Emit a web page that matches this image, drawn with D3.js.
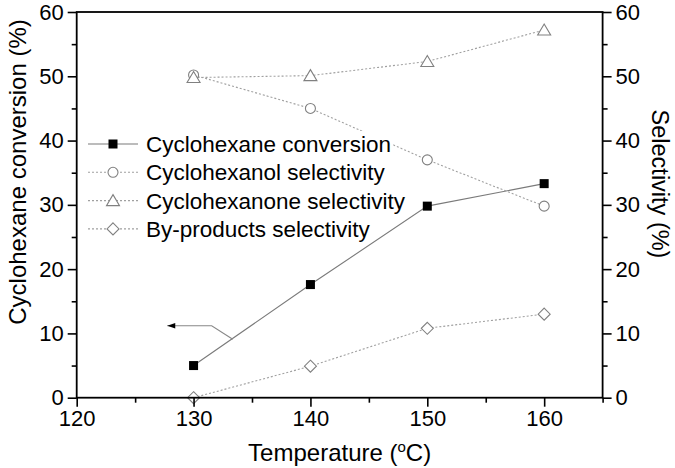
<!DOCTYPE html>
<html>
<head>
<meta charset="utf-8">
<script src="https://cdn.jsdelivr.net/npm/d3@7"></script>
<style>
  html, body { margin: 0; padding: 0; background: #fff; }
  svg { display: block; font-family: "Liberation Sans", Arial, sans-serif; }
</style>
</head>
<body>
<svg id="chart" width="675" height="468"></svg>
<script>
// ---- data ----
const temperatures = [130, 140, 150, 160];
const conversion = [5.0, 17.6, 29.8, 33.3];
const cyclohexanolSel = [50.2, 45.0, 37.0, 29.8];
const cyclohexanoneSel = [49.8, 50.1, 52.3, 57.2];
const byproductsSel = [0.0, 4.9, 10.8, 13.0];
const xTicks = [120, 130, 140, 150, 160];
const yTicks = [0, 10, 20, 30, 40, 50, 60];
const legendLabels = ["Cyclohexane conversion", "Cyclohexanol selectivity", "Cyclohexanone selectivity", "By-products selectivity"];
// annotation arrow in data coordinates (tip, bend, end on conversion line)
const arrowPts = [[127.75, 11.2], [131.55, 11.2], [133.35, 9.1]];

// ---- layout ----
const svg = d3.select("#chart");
const L = 76.7, R = 602.6, T = 12, B = 397.7;
const x = d3.scaleLinear().domain([120, 165]).range([L, R]);
const yL = d3.scaleLinear().domain([0, 60]).range([B, T]);
const yR = d3.scaleLinear().domain([0, 60]).range([B, T]);

const series = [
  { name: legendLabels[0], vals: conversion, scale: yL, marker: "square", dash: null, lineColor: "#7a7a7a" },
  { name: legendLabels[1], vals: cyclohexanolSel, scale: yR, marker: "circle", dash: "2,2", lineColor: "#a0a0a0" },
  { name: legendLabels[2], vals: cyclohexanoneSel, scale: yR, marker: "triangle", dash: "2,2", lineColor: "#a0a0a0" },
  { name: legendLabels[3], vals: byproductsSel, scale: yR, marker: "diamond", dash: "2,2", lineColor: "#a0a0a0" }
];

function drawMarker(g, type, cx, cy) {
  if (type === "square") {
    g.append("rect").attr("x", cx - 4.5).attr("y", cy - 4.5).attr("width", 9).attr("height", 9)
      .attr("fill", "#000");
  } else if (type === "circle") {
    g.append("circle").attr("cx", cx).attr("cy", cy).attr("r", 5)
      .attr("fill", "#fff").attr("stroke", "#808080").attr("stroke-width", 1.1);
  } else if (type === "triangle") {
    g.append("path").attr("d", `M${cx},${cy - 6} L${cx + 6.5},${cy + 5} L${cx - 6.5},${cy + 5} Z`)
      .attr("fill", "#fff").attr("stroke", "#808080").attr("stroke-width", 1.1);
  } else if (type === "diamond") {
    g.append("path").attr("d", `M${cx},${cy - 6} L${cx + 6},${cy} L${cx},${cy + 6} L${cx - 6},${cy} Z`)
      .attr("fill", "#fff").attr("stroke", "#808080").attr("stroke-width", 1.1);
  }
}

// ---- lines ----
const gLines = svg.append("g");
series.forEach(s => {
  const line = d3.line().x((d, i) => x(temperatures[i])).y(d => s.scale(d));
  gLines.append("path").datum(s.vals).attr("d", line)
    .attr("fill", "none").attr("stroke", s.lineColor).attr("stroke-width", 1.1)
    .attr("stroke-dasharray", s.dash);
});

// ---- annotation arrow ----
const arrowLine = d3.line().x(d => x(d[0])).y(d => yL(d[1]));
svg.append("path").datum(arrowPts).attr("d", arrowLine)
  .attr("fill", "none").attr("stroke", "#888").attr("stroke-width", 1.1);
{
  const tx = x(arrowPts[0][0]), ty = yL(arrowPts[0][1]);
  svg.append("path").attr("d", `M${tx},${ty} L${tx + 8},${ty - 2.8} L${tx + 8},${ty + 2.8} Z`).attr("fill", "#000");
}

// ---- legend (white background per row) ----
const gLeg = svg.append("g");
const legX0 = 88, legX1 = 138, legTextX = 146, legY0 = 144, legDy = 28.3;
series.forEach((s, i) => {
  const cy = legY0 + i * legDy;
  const row = gLeg.append("g");
  const bg = row.append("rect").attr("fill", "#fff");
  row.append("line").attr("x1", legX0).attr("x2", legX1).attr("y1", cy).attr("y2", cy)
    .attr("stroke", s.lineColor).attr("stroke-width", 1.1).attr("stroke-dasharray", s.dash);
  drawMarker(row, s.marker, (legX0 + legX1) / 2, cy);
  const t = row.append("text").attr("x", legTextX).attr("y", cy + 8).attr("font-size", 22.5)
    .attr("fill", "#000").text(s.name);
  const bb = t.node().getBBox();
  bg.attr("x", legX0).attr("y", cy - 13).attr("width", bb.x + bb.width - legX0 + 2).attr("height", 26);
});

// ---- markers ----
const gMarks = svg.append("g");
series.forEach(s => {
  s.vals.forEach((v, i) => drawMarker(gMarks, s.marker, x(temperatures[i]), s.scale(v)));
});

// ---- axes ----
const tickFont = 22;
const xAxis = d3.axisBottom(x).tickValues(xTicks).tickSize(9).tickPadding(4).tickFormat(d3.format("d"));
const xMinor = d3.axisBottom(x).tickValues([125, 135, 145, 155, 165]).tickSize(5).tickFormat("");
const yAxisL = d3.axisLeft(yL).tickValues(yTicks).tickSize(9).tickPadding(4).tickFormat(d3.format("d"));
const yMinorL = d3.axisLeft(yL).tickValues([5, 15, 25, 35, 45, 55]).tickSize(5).tickFormat("");
const yAxisR = d3.axisRight(yR).tickValues(yTicks).tickSize(9).tickPadding(4).tickFormat(d3.format("d"));
const yMinorR = d3.axisRight(yR).tickValues([5, 15, 25, 35, 45, 55]).tickSize(5).tickFormat("");

function styleAxis(g) {
  g.selectAll("path.domain").remove();
  g.selectAll("line").attr("stroke", "#000").attr("stroke-width", 1.6);
  g.selectAll("text").attr("font-size", tickFont).attr("fill", "#000")
    .attr("font-family", "'Liberation Sans', Arial, sans-serif");
}
svg.append("g").attr("transform", `translate(0,${B})`).call(xAxis).call(styleAxis);
svg.append("g").attr("transform", `translate(0,${B})`).call(xMinor).call(styleAxis);
svg.append("g").attr("transform", `translate(${L},0)`).call(yAxisL).call(styleAxis);
svg.append("g").attr("transform", `translate(${L},0)`).call(yMinorL).call(styleAxis);
svg.append("g").attr("transform", `translate(${R},0)`).call(yAxisR).call(styleAxis);
svg.append("g").attr("transform", `translate(${R},0)`).call(yMinorR).call(styleAxis);

// frame
svg.append("rect").attr("x", L).attr("y", T).attr("width", R - L).attr("height", B - T)
  .attr("fill", "none").attr("stroke", "#000").attr("stroke-width", 1.8);

// ---- titles ----
const xt = svg.append("text").attr("x", (L + R) / 2).attr("y", 461).attr("text-anchor", "middle")
  .attr("font-size", 24).attr("fill", "#000");
xt.append("tspan").text("Temperature (");
xt.append("tspan").attr("font-size", 15).attr("dy", -9).text("o");
xt.append("tspan").attr("dy", 9).text("C)");

svg.append("text").attr("transform", `translate(26,172) rotate(-90)`).attr("text-anchor", "middle")
  .attr("font-size", 24).attr("fill", "#000").text("Cyclohexane conversion (%)");

svg.append("text").attr("transform", `translate(652,184) rotate(90)`).attr("text-anchor", "middle")
  .attr("font-size", 23.5).attr("fill", "#000").text("Selectivity (%)");
</script>
</body>
</html>
